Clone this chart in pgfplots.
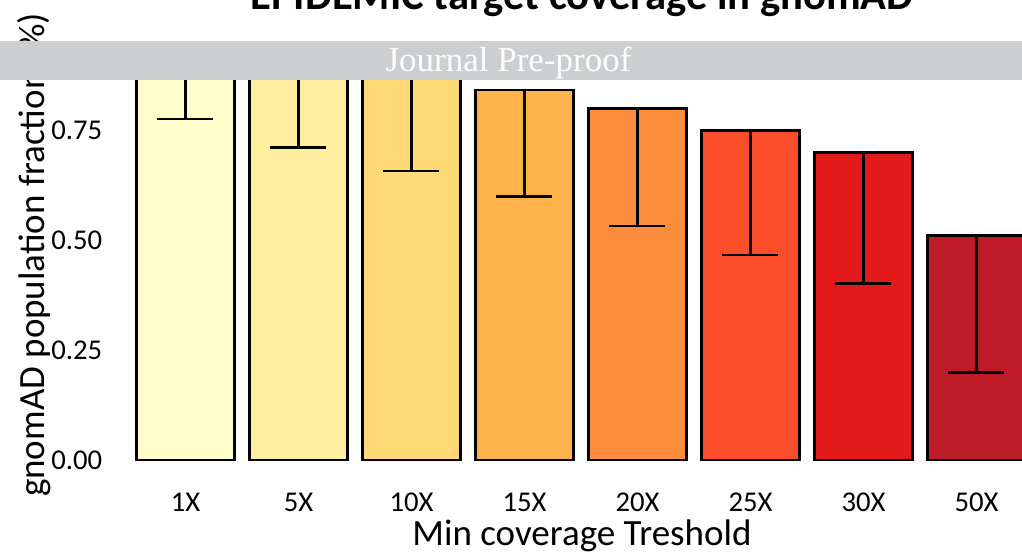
\documentclass[border=0pt]{standalone}
\usepackage{pgfplots}
\pgfplotsset{compat=1.18}
\usepackage{fontspec}
\setmainfont{Carlito}
\newfontfamily\timesfont{Liberation Serif}
\definecolor{c1}{HTML}{FFFFCC}
\definecolor{c2}{HTML}{FFEDA0}
\definecolor{c3}{HTML}{FED976}
\definecolor{c4}{HTML}{FEB24C}
\definecolor{c5}{HTML}{FD8D3C}
\definecolor{c6}{HTML}{FC4E2A}
\definecolor{c7}{HTML}{E31A1C}
\definecolor{c8}{HTML}{BD1B27}
\definecolor{banner}{RGB}{205,206,208}
\begin{document}
\begin{tikzpicture}[x=0.75pt,y=0.75pt]
\path[use as bounding box] (0,0) rectangle (1022,553);
\begin{scope}[overlay]
\clip (0,0) rectangle (1022,553);
\begin{axis}[
  at={(88.275pt,69.75pt)}, anchor=south west,
  scale only axis, width=694.95pt, height=330pt,
  xmin=-0.6, xmax=7.6, ymin=0, ymax=1,
  axis x line=bottom, axis y line=left,
  axis line style={draw=none,-},
  major tick length=0pt,
  xtick={0,1,2,3,4,5,6,7},
  xticklabels={1X,5X,10X,15X,20X,25X,30X,50X},
  ytick={0,0.25,0.5,0.75},
  yticklabels={0.00,0.25,0.50,0.75},
  tick label style={font=\fontsize{21.5}{24}\selectfont},
  xticklabel style={inner sep=0pt, anchor=north, yshift=-24.5pt},
  yticklabel style={inner sep=0pt, anchor=east, xshift=-11.5pt},
  clip=false,
]
\addplot[ybar, bar shift=0pt, bar width=0.87, fill=c1, draw=black, line width=2.1pt] coordinates {(0,0.93)};
\addplot[ybar, bar shift=0pt, bar width=0.87, fill=c2, draw=black, line width=2.1pt] coordinates {(1,0.905)};
\addplot[ybar, bar shift=0pt, bar width=0.87, fill=c3, draw=black, line width=2.1pt] coordinates {(2,0.88)};
\addplot[ybar, bar shift=0pt, bar width=0.87, fill=c4, draw=black, line width=2.1pt] coordinates {(3,0.841)};
\addplot[ybar, bar shift=0pt, bar width=0.87, fill=c5, draw=black, line width=2.1pt] coordinates {(4,0.798)};
\addplot[ybar, bar shift=0pt, bar width=0.87, fill=c6, draw=black, line width=2.1pt] coordinates {(5,0.748)};
\addplot[ybar, bar shift=0pt, bar width=0.87, fill=c7, draw=black, line width=2.1pt] coordinates {(6,0.698)};
\addplot[ybar, bar shift=0pt, bar width=0.87, fill=c8, draw=black, line width=2.1pt] coordinates {(7,0.511)};
\addplot[draw=none, mark=none,
  error bars/.cd, y dir=minus, y explicit,
  error bar style={line width=2.1pt, black},
  error mark options={rotate=90, mark size=21pt, line width=2.1pt, black}]
  table[x=x, y=y, y error minus=e] {
  x y e
  0 0.93  0.155
  1 0.905 0.194
  2 0.88  0.223
  3 0.841 0.243
  4 0.798 0.266
  5 0.748 0.282
  6 0.698 0.296
  7 0.511 0.313
  };
\end{axis}
\node[anchor=base, font=\fontsize{27.75}{30}\selectfont] at (582,7) {Min coverage Treshold};
\node[anchor=base, rotate=90, font=\fontsize{27.75}{30}\selectfont] at (44,298) {gnomAD population fraction (\%)};
\node[anchor=base, font=\fontsize{32}{36}\selectfont\bfseries] at (582,543) {EPIDEMIC target coverage in gnomAD};
\fill[banner] (0,473) rectangle (1022,512);
\node[anchor=base, text=white, font=\timesfont\fontsize{26.25}{28}\selectfont] at (508.5,481) {Journal Pre-proof};
\end{scope}
\end{tikzpicture}
\end{document}
